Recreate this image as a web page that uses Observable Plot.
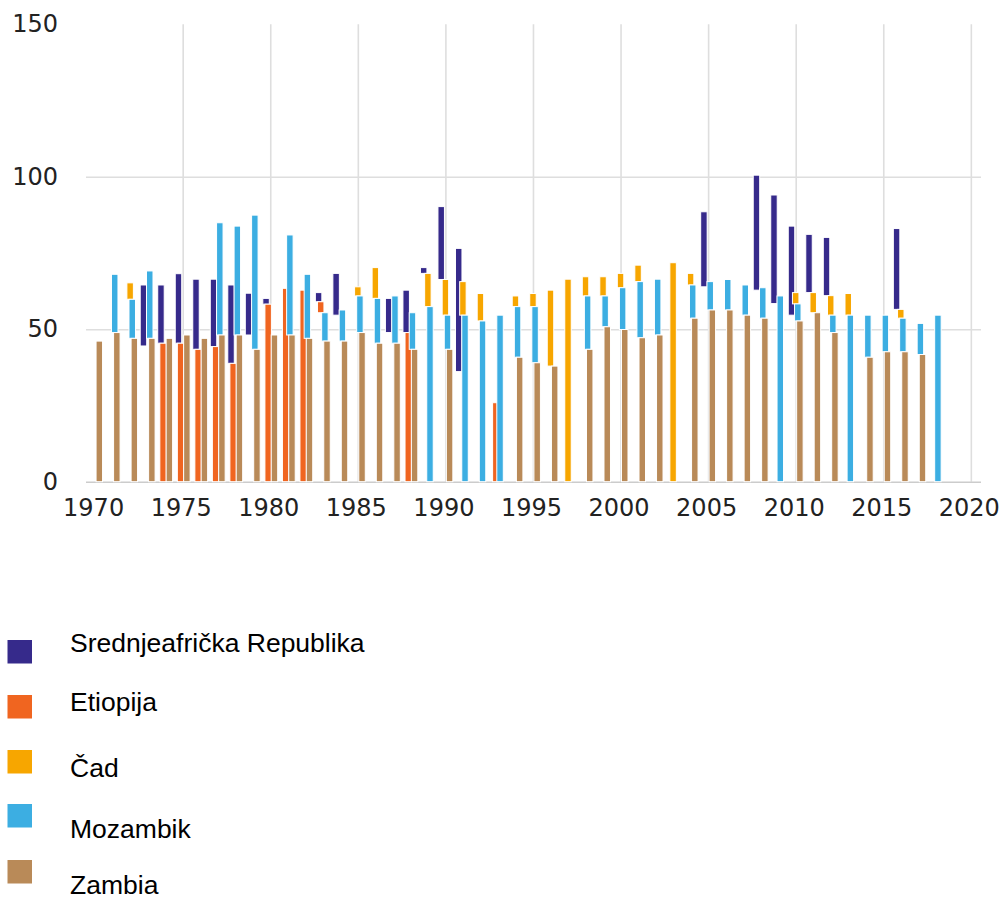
<!DOCTYPE html>
<html>
<head>
<meta charset="utf-8">
<script src="https://cdn.jsdelivr.net/npm/d3@7"></script>
<script src="https://cdn.jsdelivr.net/npm/@observablehq/plot@0.6"></script>
<style>
  html, body { margin: 0; padding: 0; background: #fff; overflow: hidden; }
  #chart svg, #legend svg { display: block; }
</style>
</head>
<body>
<div id="chart"></div>
<div id="legend"></div>
<script>
const years = [1970,1971,1972,1973,1974,1975,1976,1977,1978,1979,
  1980,1981,1982,1983,1984,1985,1986,1987,1988,1989,
  1990,1991,1992,1993,1994,1995,1996,1997,1998,1999,
  2000,2001,2002,2003,2004,2005,2006,2007,2008,2009,
  2010,2011,2012,2013,2014,2015,2016,2017,2018];

const zambia = [46.1,48.9,47.0,47.0,47.0,48.1,47.0,48.1,48.1,43.4,
  48.1,48.1,47.0,46.1,46.1,48.9,45.4,45.4,43.4,null,
  43.4,null,null,null,40.8,39.0,37.9,null,43.4,50.8,
  49.9,47.2,48.1,null,53.6,56.3,56.3,54.6,53.6,null,
  52.7,55.4,48.9,null,40.8,42.6,42.6,41.7,null];
const zambiaLow = zambia.map(v => v == null ? null : 0);

const mozambik = [null,68.0,59.8,69.1,null,null,null,84.9,83.8,87.4,
  null,80.9,68.0,55.4,56.3,60.9,60.1,60.9,55.4,57.4,
  54.6,54.6,52.7,54.6,57.4,57.4,null,null,60.9,60.9,
  63.6,65.6,66.4,null,64.5,65.6,66.3,64.5,63.6,60.9,
  58.3,null,54.6,54.6,54.6,54.6,53.6,51.9,54.6];
const mozambikLow = [null,48.9,47.0,47.0,null,null,null,48.1,48.1,43.4,
  null,48.1,47.0,46.1,46.1,48.9,45.4,45.4,43.4,0,
  43.4,0,0,0,40.8,39.0,null,null,43.4,50.8,
  49.9,47.2,48.1,null,53.6,56.3,56.3,54.6,53.6,0,
  52.7,null,48.9,0,40.8,42.6,42.6,41.7,0];

const cad = [null,null,65.2,null,null,null,null,null,null,null,
  null,null,null,null,null,63.9,70.2,null,null,68.3,
  66.3,65.6,61.7,null,60.9,61.7,62.8,66.4,67.2,67.2,
  68.3,71.0,null,71.8,68.3,null,null,null,null,null,
  62.0,62.0,61.0,61.7,null,null,56.5,null,null];
const cadLow = [null,null,59.8,null,null,null,null,null,null,null,
  null,null,null,null,null,60.9,60.1,null,null,57.4,
  54.6,54.6,52.7,null,57.4,57.4,37.9,0,60.9,60.9,
  63.6,65.6,null,0,64.5,null,null,null,null,null,
  58.3,55.4,54.6,54.6,null,null,53.6,null,null];

const etiopija = [null,null,null,null,45.4,45.4,43.4,44.3,38.8,null,
  58.2,63.4,62.8,59.0,null,null,null,null,48.9,null,
  null,null,null,25.9,null,null,null,null,null,null,
  null,null,null,null,null,null,null,null,null,null,
  null,null,null,null,null,null,null,null,null];
const etiopijaLow = [null,null,null,null,0,0,0,0,0,null,
  0,0,0,55.4,null,null,null,null,0,null,
  null,null,null,0,null,null,null,null,null,null,
  null,null,null,null,null,null,null,null,null,null,
  null,null,null,null,null,null,null,null,null];

const srednjeafricka = [null,null,null,64.5,64.5,68.2,66.4,66.4,64.5,61.8,
  60.1,null,null,62.0,68.3,null,null,60.1,62.8,70.2,
  90.2,76.5,null,null,null,null,null,null,null,null,
  null,null,null,null,null,88.5,null,null,100.5,94.0,
  83.8,81.1,80.1,null,null,null,83.0,null,null];
const srednjeafrickaLow = [null,null,null,44.5,45.4,45.4,43.4,44.3,38.8,48.1,
  58.2,null,null,59.0,54.6,null,null,48.9,48.9,68.3,
  66.3,36.1,null,null,null,null,null,null,null,null,
  null,null,null,null,null,63.9,null,null,62.8,58.4,
  54.6,62.0,61.0,null,null,null,56.5,null,null];

const seriesNames = ["Srednjeafrička Republika", "Etiopija", "Čad", "Mozambik", "Zambia"];
const seriesColors = ["#362a8b", "#f06520", "#f7a600", "#3caee2", "#b98a58"];
const seriesValues = [srednjeafricka, etiopija, cad, mozambik, zambia];
const seriesLows = [srednjeafrickaLow, etiopijaLow, cadLow, mozambikLow, zambiaLow];

const xTicks = [1970,1975,1980,1985,1990,1995,2000,2005,2010,2015,2020];
const xGrid = [1975,1980,1985,1990,1995,2000,2005,2010,2015,2020];
const yTicks = [0,50,100,150];

const HW = 0.185; // half bar width in years

const barMarks = seriesNames.map((name, k) => {
  const rows = years.map((yr, i) => ({year: yr, high: seriesValues[k][i], low: seriesLows[k][i], name}))
    .filter(d => d.high != null);
  return Plot.rect(rows, {
    x1: d => d.year - HW, x2: d => d.year + HW,
    y1: "low", y2: "high",
    fill: seriesColors[k], stroke: "white", strokeWidth: 1,
    dx: (k - 2) * 2.1
  });
});

const chart = Plot.plot({
  width: 1005,
  height: 540,
  marginLeft: 86,
  marginRight: 24,
  marginTop: 24.2,
  marginBottom: 58.3,
  style: {fontFamily: "'DejaVu Sans', Verdana, sans-serif", fontSize: "24px", background: "white", color: "#222"},
  x: {type: "linear", domain: [1969.48, 2020.58]},
  y: {domain: [0, 150]},
  marks: [
    Plot.ruleY([50, 100], {stroke: "#dedede", strokeWidth: 1.6}),
    Plot.ruleX(xGrid, {y1: 0, y2: 150, stroke: "#dedede", strokeWidth: 1.6}),
    Plot.ruleY([0], {stroke: "#cccccc", strokeWidth: 1.6}),
    ...barMarks,
    Plot.axisX({ticks: xTicks, tickFormat: d => String(d), tickSize: 0, tickPadding: 17, dx: -2, fontSize: 24, color: "#222", label: null}),
    Plot.axisY({ticks: yTicks, tickFormat: d => String(d), tickSize: 0, tickPadding: 28.5, fontSize: 24, color: "#222", label: null})
  ]
});
document.getElementById("chart").appendChild(chart);

// Legend below the chart
const legend = d3.select("#legend").append("svg")
  .attr("width", 1005).attr("height", 361);
const squareTops = [100, 155, 210, 264, 320];
const textBases = [112, 171, 237, 298, 354];
seriesNames.forEach((name, k) => {
  legend.append("rect")
    .attr("x", 7.5).attr("y", squareTops[k])
    .attr("width", 24.5).attr("height", 23.5)
    .attr("fill", seriesColors[k]);
  legend.append("text")
    .attr("x", 70).attr("y", textBases[k])
    .attr("font-family", "'Liberation Sans', Arial, sans-serif")
    .attr("font-size", 26.5)
    .attr("fill", "#000")
    .text(name);
});
</script>
</body>
</html>
